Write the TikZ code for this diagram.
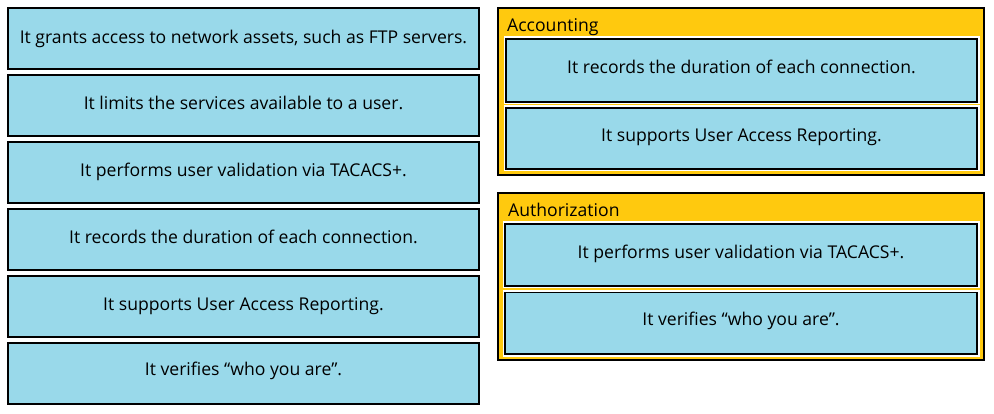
\documentclass[tikz,border=0pt]{standalone}
\usepackage{fontspec}
\setmainfont{Open Sans}
\definecolor{cardblue}{HTML}{99D9EA}
\definecolor{panelyellow}{HTML}{FFC90E}
\tikzset{
  card/.style={draw=black, line width=1.3pt, fill=cardblue},
  halo/.style={fill=white},
  ctext/.style={anchor=base, font=\fontsize{17.6}{20}\selectfont, inner sep=0pt},
  panel/.style={draw=black, line width=1.3pt, fill=panelyellow},
  ptitle/.style={anchor=base west, inner sep=0pt, font=\fontsize{17.6}{20}\selectfont}
}
\begin{document}
\begin{tikzpicture}[x=1pt,y=-1pt]
\useasboundingbox[fill=white] (0,0) rectangle (994,414);
% left cards
\foreach \i/\b/\t in {0/43.5/{It grants access to network assets, such as FTP servers.},
                   1/110/{It limits the services available to a user.},
                   2/176.7/{It performs user validation via TACACS+.},
                   3/243.3/{It records the duration of each connection.},
                   4/311/{It supports User Access Reporting.},
                   5/375.7/{It verifies “who you are”.}}{
  \draw[card] (8,8+67*\i) rectangle (479,69+67*\i);
  \node[ctext] (L\i) at (243.5,\b) {\t};
}
% Accounting panel
\draw[panel] (498,8) rectangle (984,175);
\node[ptitle] (accT) at (507,31.5) {Accounting};
\fill[halo] (503.5,36.5) rectangle (979.5,104);
\draw[card] (506,39) rectangle (977,102);
\node[ctext] (A1) at (741.5,74) {It records the duration of each connection.};
\fill[halo] (503.5,105.5) rectangle (979.5,171.5);
\draw[card] (506,108) rectangle (977,169);
\node[ctext] (A2) at (741.5,141.7) {It supports User Access Reporting.};
% Authorization panel
\draw[panel] (498,193) rectangle (984,360);
\node[ptitle] (autT) at (508,216.5) {Authorization};
\fill[halo] (502.5,221.5) rectangle (979.5,288.5);
\draw[card] (505,224) rectangle (977,286);
\node[ctext] (B1) at (741,258.3) {It performs user validation via TACACS+.};
\fill[halo] (502.5,290) rectangle (979.5,356.5);
\draw[card] (505,292.5) rectangle (977,354);
\node[ctext] (B2) at (741,326) {It verifies “who you are”.};
\end{tikzpicture}
\end{document}
